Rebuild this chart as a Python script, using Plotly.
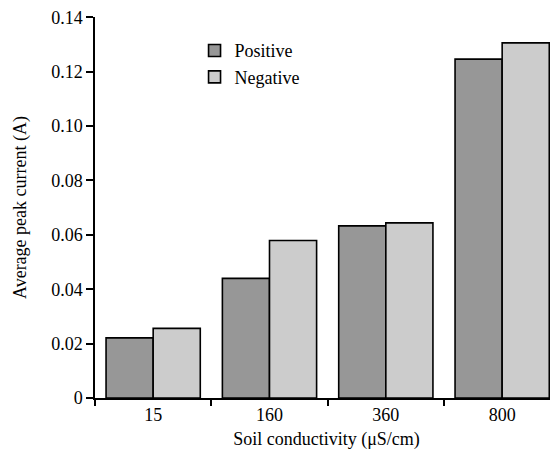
import plotly.graph_objects as go

categories = ["15", "160", "360", "800"]
positive = [0.0221, 0.0440, 0.0633, 0.1246]
negative = [0.0256, 0.0579, 0.0644, 0.1306]
y_ticks = [0, 0.02, 0.04, 0.06, 0.08, 0.10, 0.12, 0.14]
y_tick_text = ["0", "0.02", "0.04", "0.06", "0.08", "0.10", "0.12", "0.14"]

FONT = "Liberation Serif"

fig = go.Figure()
fig.add_trace(go.Bar(x=categories, y=positive, name="Positive",
                     marker=dict(color="#979797", line=dict(color="#000000", width=1.6))))
fig.add_trace(go.Bar(x=categories, y=negative, name="Negative",
                     marker=dict(color="#cccccc", line=dict(color="#000000", width=1.6))))

fig.update_layout(
    width=550, height=449,
    margin=dict(l=87, r=0, t=6, b=59),
    plot_bgcolor="white", paper_bgcolor="white",
    barmode="group", bargap=0.19, bargroupgap=0,
    font=dict(family=FONT, size=18, color="#000000"),
    legend=dict(x=0.215, y=0.96, xanchor="left", yanchor="top",
                bgcolor="rgba(0,0,0,0)", font=dict(family=FONT, size=18),
                tracegroupgap=0, itemwidth=30),
    showlegend=True,
)
fig.update_xaxes(
    type="category", range=[-0.5, 3.48],
    showline=True, linecolor="#000000", linewidth=1.5,
    ticks="outside", tickson="boundaries", ticklen=6, tickwidth=1.5, tickcolor="#000000",
    showgrid=False, zeroline=False,
    title=dict(text="Soil conductivity (μS/cm)", standoff=8, font=dict(family=FONT, size=18)),
    tickfont=dict(family=FONT, size=18),
)
fig.update_yaxes(
    range=[0, 0.1401], tickvals=y_ticks, ticktext=y_tick_text,
    showline=True, linecolor="#000000", linewidth=1.5,
    ticks="outside", ticklen=7, tickwidth=1.5, tickcolor="#000000",
    ticklabeloverflow="allow",
    showgrid=False, zeroline=False,
    title=dict(text="Average peak current (A)", standoff=20, font=dict(family=FONT, size=18)),
    tickfont=dict(family=FONT, size=18),
)

fig.write_html("out.html")
